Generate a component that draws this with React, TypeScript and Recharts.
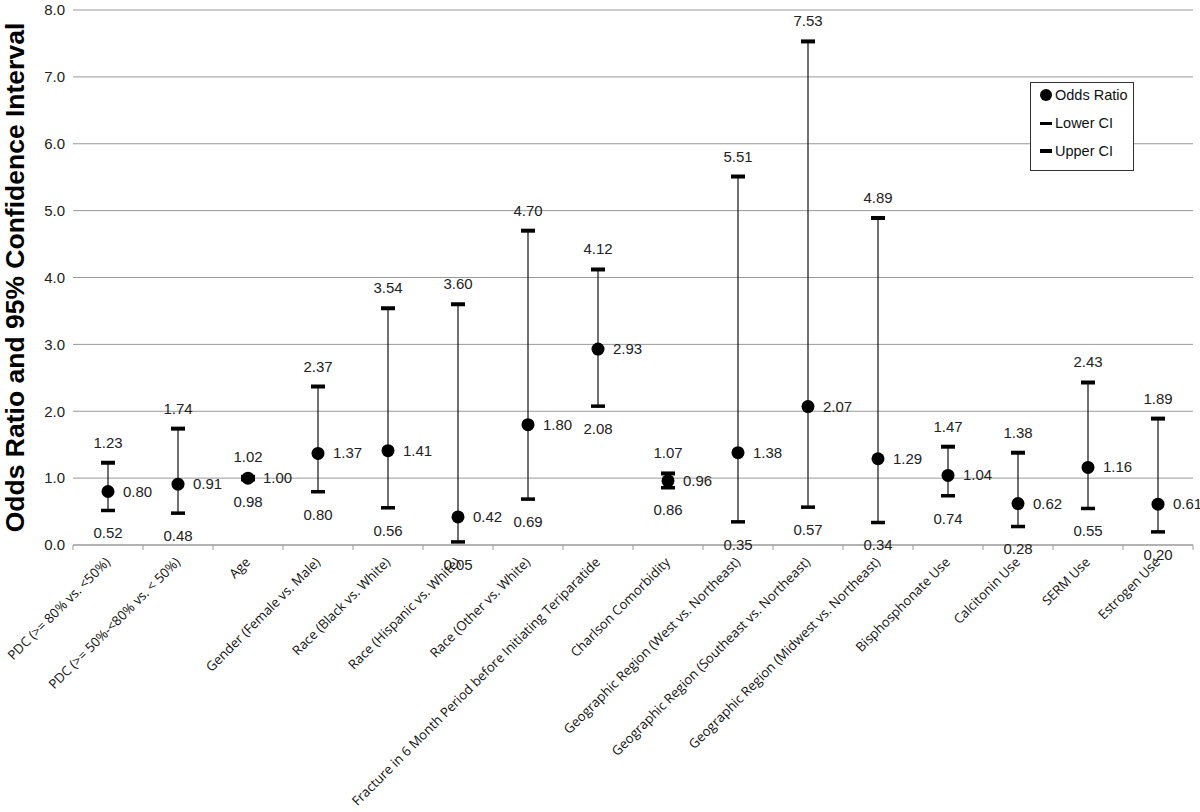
import React from "react";
import { ComposedChart, Bar, Scatter, XAxis, YAxis, CartesianGrid } from "recharts";

const categories = [
  "PDC (>= 80% vs. <50%)",
  "PDC (>= 50%-<80% vs. < 50%)",
  "Age",
  "Gender (Female vs. Male)",
  "Race (Black vs. White)",
  "Race (Hispanic vs. White)",
  "Race (Other vs. White)",
  "Fracture in 6 Month Period before Initiating Teriparatide",
  "Charlson Comorbidity",
  "Geographic Region (West vs. Northeast)",
  "Geographic Region (Southeast vs. Northeast)",
  "Geographic Region (Midwest vs. Northeast)",
  "Bisphosphonate Use",
  "Calcitonin Use",
  "SERM Use",
  "Estrogen Use",
];
const oddsRatio = [0.8, 0.91, 1.0, 1.37, 1.41, 0.42, 1.8, 2.93, 0.96, 1.38, 2.07, 1.29, 1.04, 0.62, 1.16, 0.61];
const lowerCI = [0.52, 0.48, 0.98, 0.8, 0.56, 0.05, 0.69, 2.08, 0.86, 0.35, 0.57, 0.34, 0.74, 0.28, 0.55, 0.2];
const upperCI = [1.23, 1.74, 1.02, 2.37, 3.54, 3.6, 4.7, 4.12, 1.07, 5.51, 7.53, 4.89, 1.47, 1.38, 2.43, 1.89];
const yTicks = [0, 1, 2, 3, 4, 5, 6, 7, 8];

const data = categories.map((name, i) => ({
  name,
  or: oddsRatio[i],
  lo: lowerCI[i],
  hi: upperCI[i],
  range: [lowerCI[i], upperCI[i]],
}));

const W = 1200;
const H = 812;
const M = { top: 10, right: 7, left: 0, bottom: 0 };
const Y_W = 73;
const X_H = 267;
const band = (W - M.left - M.right - Y_W) / categories.length;
const numFont = "'Liberation Sans', Arial, Helvetica, sans-serif";

function fmt(v: number) {
  return v.toFixed(2);
}

function RangeLine(props: any) {
  const { x, y, width, height } = props;
  const cx = x + width / 2;
  return <line x1={cx} x2={cx} y1={y} y2={y + height} stroke="#111" strokeWidth={1.2} />;
}

function LowMark(props: any) {
  const { cx, cy, payload } = props;
  return (
    <g>
      <rect x={cx - 7} y={cy - 1.5} width={14} height={3.5} fill="#000" />
      <text x={cx} y={cy + 28} textAnchor="middle" fontSize={15} fontFamily={numFont} fill="#222">
        {fmt(payload.lo)}
      </text>
    </g>
  );
}

function HighMark(props: any) {
  const { cx, cy, payload } = props;
  return (
    <g>
      <rect x={cx - 7} y={cy - 2} width={14} height={4} fill="#000" />
      <text x={cx} y={cy - 15} textAnchor="middle" fontSize={15} fontFamily={numFont} fill="#222">
        {fmt(payload.hi)}
      </text>
    </g>
  );
}

function OrMark(props: any) {
  const { cx, cy, payload } = props;
  return (
    <g>
      <circle cx={cx} cy={cy} r={6.5} fill="#000" />
      <text x={cx + 15} y={cy + 5} textAnchor="start" fontSize={15} fontFamily={numFont} fill="#222">
        {fmt(payload.or)}
      </text>
    </g>
  );
}

function XTick(props: any) {
  const { x, y, payload, index } = props;
  return (
    <g>
      <line x1={x - band / 2} x2={x - band / 2} y1={y - 8} y2={y - 3} stroke="#999" />
      {index === categories.length - 1 && (
        <line x1={x + band / 2} x2={x + band / 2} y1={y - 8} y2={y - 3} stroke="#999" />
      )}
      <text
        x={x + 3}
        y={y + 10}
        transform={`rotate(-45, ${x + 3}, ${y + 10})`}
        textAnchor="end"
        fontSize={13.2}
        fontFamily="'Open Sans', sans-serif"
        fill="#111"
      >
        {payload.value}
      </text>
    </g>
  );
}

function Legend() {
  const item = (mark: React.ReactNode, label: string, top: number) => (
    <div style={{ position: "absolute", left: 8, top, display: "flex", alignItems: "center" }}>
      <div style={{ width: 14, display: "flex", justifyContent: "center" }}>{mark}</div>
      <span style={{ marginLeft: 2, fontSize: 14.5, fontFamily: numFont, color: "#111" }}>{label}</span>
    </div>
  );
  return (
    <div
      style={{
        position: "absolute",
        left: 1030,
        top: 82,
        width: 104,
        height: 89,
        border: "1px solid #333",
        background: "#fff",
        boxSizing: "border-box",
      }}
    >
      {item(<div style={{ width: 12, height: 12, borderRadius: 6, background: "#000" }} />, "Odds Ratio", 4)}
      {item(<div style={{ width: 12, height: 3, background: "#000" }} />, "Lower CI", 32)}
      {item(<div style={{ width: 12, height: 4, background: "#000" }} />, "Upper CI", 60)}
    </div>
  );
}

export default function App() {
  return (
    <div style={{ position: "absolute", left: 0, top: 0, width: W, height: H, background: "#fff" }}>
      <ComposedChart width={W} height={H} data={data} margin={M}>
        <CartesianGrid vertical={false} stroke="#999" />
        <XAxis
          dataKey="name"
          interval={0}
          height={X_H}
          tick={<XTick />}
          tickLine={false}
          axisLine={{ stroke: "#999" }}
        />
        <YAxis
          domain={[0, 8]}
          ticks={yTicks}
          width={Y_W}
          axisLine={false}
          tickLine={false}
          tickFormatter={(v: number) => v.toFixed(1)}
          tick={{ fontSize: 15, fontFamily: numFont, fill: "#222" }}
          label={{
            value: "Odds Ratio and 95% Confidence Interval",
            angle: -90,
            position: "insideLeft",
            dx: 10,
            dy: 0,
            style: { fontSize: 26.5, fontWeight: "bold", fontFamily: numFont, fill: "#000", textAnchor: "middle" },
          }}
        />
        <Bar dataKey="range" shape={<RangeLine />} isAnimationActive={false} />
        <Scatter dataKey="lo" shape={<LowMark />} isAnimationActive={false} />
        <Scatter dataKey="hi" shape={<HighMark />} isAnimationActive={false} />
        <Scatter dataKey="or" shape={<OrMark />} isAnimationActive={false} />
      </ComposedChart>
      <Legend />
    </div>
  );
}
